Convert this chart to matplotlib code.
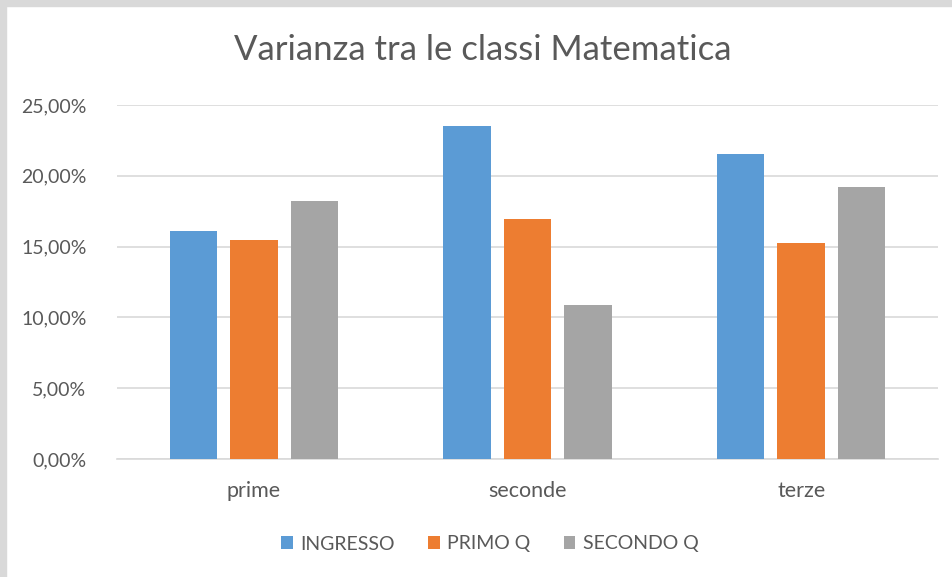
import matplotlib.pyplot as plt
import matplotlib.patches as patches
import numpy as np

categories = ['prime', 'seconde', 'terze']
series_names = ['INGRESSO', 'PRIMO Q', 'SECONDO Q']
ingresso = [16.1, 23.55, 21.55]
primo_q = [15.5, 16.95, 15.25]
secondo_q = [18.2, 10.85, 19.2]
yticks = [0, 5, 10, 15, 20, 25]

colors = ['#5B9BD5', '#ED7D31', '#A5A5A5']
text_color = '#595959'

plt.rcParams['font.family'] = ['Lato', 'DejaVu Sans']

fig = plt.figure(figsize=(9.53, 5.77), dpi=100)
fig.patch.set_facecolor('white')

# grey frame on top and left edges
fig.patches.append(patches.Rectangle((0, 0), 6 / 953, 1, transform=fig.transFigure,
                                     color='#D9D9D9', zorder=0))
fig.patches.append(patches.Rectangle((0, 1 - 6 / 577), 1, 6 / 577, transform=fig.transFigure,
                                     color='#D9D9D9', zorder=0))

ax = fig.add_axes([117 / 953, 1 - 459 / 577, (938 - 117) / 953, (459 - 105) / 577])

x = np.arange(len(categories))
width = 0.173
step = 0.221
for i, (vals, name) in enumerate(zip([ingresso, primo_q, secondo_q], series_names)):
    ax.bar(x + (i - 1) * step, vals, width, color=colors[i], label=name, zorder=3)

ax.set_xlim(-0.5, 2.5)
ax.set_ylim(0, 25)
ax.set_yticks(yticks)
ax.yaxis.set_major_formatter(plt.FuncFormatter(lambda v, p: ('%.2f%%' % v).replace('.', ',')))
ax.set_xticks(x)
ax.set_xticklabels(categories)
ax.grid(axis='y', color='#D9D9D9', lw=1.2, zorder=0)
for s in ['top', 'right', 'left']:
    ax.spines[s].set_visible(False)
ax.spines['bottom'].set_color('#D9D9D9')
ax.spines['bottom'].set_linewidth(1.2)
ax.tick_params(axis='both', length=0, colors=text_color)
ax.tick_params(axis='y', pad=22, labelsize=14)
ax.tick_params(axis='x', pad=16, labelsize=15.5)

fig.text(483 / 953, 1 - 50 / 577, 'Varianza tra le classi Matematica', ha='center', va='center',
         fontsize=25, color=text_color)

leg = fig.legend(loc='center', bbox_to_anchor=(490 / 953, 1 - 544 / 577), ncol=3, frameon=False,
                 fontsize=14, handlelength=0.6, handleheight=0.6, handletextpad=0.4,
                 columnspacing=1.7)
for t in leg.get_texts():
    t.set_color(text_color)

fig.savefig('out.png', dpi=100)
